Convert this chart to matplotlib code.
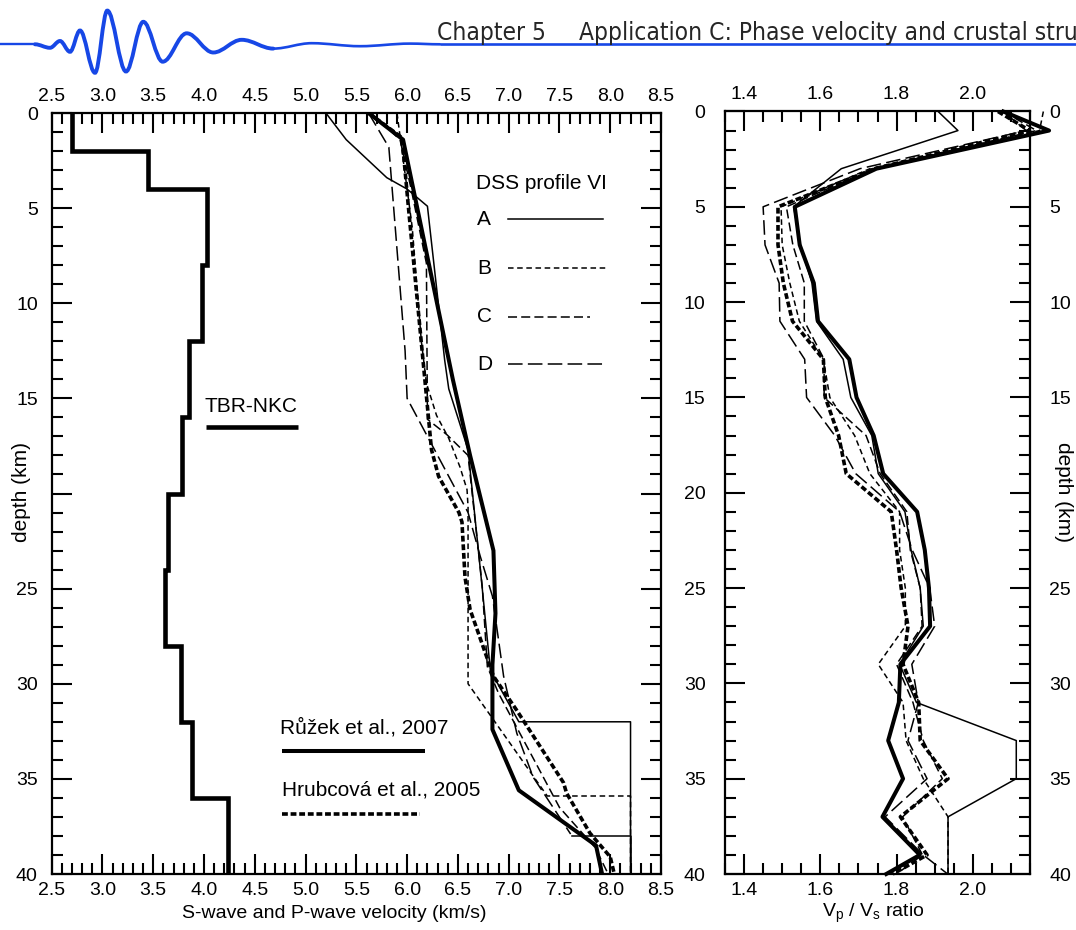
import matplotlib
matplotlib.use('Agg')
import matplotlib.pyplot as plt
from matplotlib.path import Path
from matplotlib.patches import PathPatch
from matplotlib.ticker import (MultipleLocator, FixedLocator, FormatStrFormatter,
                               FuncFormatter)

plt.rcParams['font.family'] = ['Liberation Sans', 'DejaVu Sans']
plt.rcParams['mathtext.fontset'] = 'custom'
plt.rcParams['mathtext.rm'] = 'Liberation Sans'
plt.rcParams['mathtext.it'] = 'Liberation Sans:italic'
plt.rcParams['lines.scale_dashes'] = False

# ---------------- S-wave layered model (TBR-NKC) ----------------
vs_edges = [0, 2, 4, 8, 12, 16, 20, 24, 28, 32, 36, 40]
vs_values = [2.70, 3.45, 4.03, 3.98, 3.85, 3.78, 3.65, 3.62, 3.77, 3.88, 4.24]

# ---------------- P-wave profiles ----------------
ruzek_depth = [0, 1.4, 14.0, 18.0, 23.0, 26.3, 29.0, 32.4, 35.6, 38.5, 40]
ruzek_vp = [5.62, 5.96, 6.45, 6.62, 6.85, 6.87, 6.84, 6.84, 7.10, 7.86, 7.92]

hrub_depth = [0, 1.3, 4.8, 13.2, 16.0, 17.7, 19.1, 21.0, 21.5, 24.4, 26.1, 29.6,
              31.4, 35.2, 35.75, 37.85, 39.1, 40]
hrub_vp = [5.62, 5.95, 6.01, 6.16, 6.21, 6.24, 6.31, 6.51, 6.54, 6.57, 6.62, 6.85,
           7.08, 7.54, 7.57, 7.80, 8.00, 8.04]

dss_a_depth = [0, 1.4, 3.4, 4.0, 4.9, 13.0, 14.5, 17.7, 25.0, 29.3, 32.0, 32.0, 40]
dss_a_vp = [5.20, 5.40, 5.80, 6.00, 6.20, 6.37, 6.41, 6.60, 6.74, 6.82, 7.10, 8.20, 8.20]

dss_b_depth = [0, 1.2, 6.0, 12.0, 14.2, 15.9, 17.1, 18.6, 19.8, 20.7, 30.0, 35.9, 35.9, 40]
dss_b_vp = [5.90, 5.93, 6.05, 6.14, 6.19, 6.29, 6.41, 6.52, 6.59, 6.60, 6.60, 7.38, 8.20, 8.20]

dss_c_depth = [0, 1.4, 4.0, 7.9, 16.1, 16.9, 18.0, 24.9, 29.1, 30.5, 33.5, 36.5, 38.6, 40]
dss_c_vp = [5.64, 5.93, 6.04, 6.19, 6.20, 6.39, 6.60, 6.74, 6.79, 6.90, 7.20, 7.50, 7.85, 7.98]

dss_d_depth = [0, 1.8, 12.5, 15.0, 21.0, 23.3, 25.4, 29.6, 32.6, 34.9, 37.9]
dss_d_vp = [5.62, 5.82, 5.98, 6.00, 6.60, 6.72, 6.84, 6.95, 7.08, 7.24, 7.61]
dss_d_moho_depth = [38.0, 38.0, 40]
dss_d_moho_vp = [7.62, 8.20, 8.20]

# ---------------- Vp/Vs ratio profiles ----------------
ratio_depth = [0, 1, 3, 5, 7, 9, 11, 13, 15, 17, 19, 21, 23, 25, 27, 29, 31, 33, 35, 37, 39, 40]
ratio_ruzek = [2.080, 2.200, 1.747, 1.533, 1.546, 1.583, 1.594, 1.676, 1.695, 1.740, 1.765,
               1.854, 1.874, 1.885, 1.888, 1.810, 1.806, 1.778, 1.817, 1.763, 1.861, 1.773]
ratio_hrub = [2.066, 2.149, 1.743, 1.489, 1.489, 1.503, 1.527, 1.608, 1.613, 1.648, 1.668,
              1.786, 1.800, 1.812, 1.830, 1.817, 1.858, 1.862, 1.935, 1.810, 1.880, 1.790]
ratio_a = [1.909, 1.961, 1.655, 1.530, 1.548, 1.578, 1.590, 1.660, 1.680, 1.735, 1.752,
           1.822, 1.838, 1.862, 1.870, 1.808, 1.852, 2.114, 2.114, 1.935, 1.935, 1.935]
ratio_b = [2.185, 2.175, 1.730, 1.497, 1.500, 1.520, 1.545, 1.608, 1.625, 1.690, 1.730,
           1.808, 1.808, 1.823, 1.823, 1.752, 1.817, 1.825, 1.870, 1.935, 1.935, 1.935]
ratio_c = [2.080, 2.167, 1.739, 1.511, 1.528, 1.558, 1.558, 1.610, 1.610, 1.720, 1.757,
           1.827, 1.836, 1.862, 1.867, 1.800, 1.843, 1.870, 1.920, 1.816, 1.868, 1.800]
ratio_d = [2.080, 2.140, 1.704, 1.450, 1.455, 1.492, 1.494, 1.559, 1.564, 1.638, 1.693,
           1.808, 1.841, 1.887, 1.900, 1.840, 1.857, 1.830, 1.880, 1.770, 1.870, 1.934]

# ---------------- header wavelet (extrema, header pixel units) ----------------
wave_x = [35, 50, 60, 70, 80, 95, 107.3, 126, 143.3, 162.7, 186.7, 213.3, 241.7, 273.3,
          311.7, 360, 410, 440]
wave_y = [44.3, 47.8, 41.0, 51.8, 30.5, 72.8, 10.6, 71.5, 21.8, 61.7, 33.3, 52.5, 39.8,
          48.6, 43.2, 46.2, 43.6, 44.3]

header_left = 'Chapter 5'
header_right = 'Application C: Phase velocity and crustal structure'

# ---------------- styles ----------------
BLUE = '#1747e6'
THIN = 1.1
THICK = 2.9
DASH_B = (0, (4.0, 2.6))
DASH_C = (0, (6.5, 3.0))
DASH_D = (0, (10.5, 3.8))
DASH_H = (0, (4.2, 2.0))

W, H = 1076, 930
fig = plt.figure(figsize=(W / 100, H / 100), dpi=100)


def box(l, t, r, b):
    return [l / W, 1 - b / H, (r - l) / W, (b - t) / H]


axL = fig.add_axes(box(51.7, 113, 661, 874))
axR = fig.add_axes(box(725, 111.5, 1030, 874))
axR2 = axR.twinx()   # carries the right-hand depth numbers only

# ---------- left panel: velocities ----------
axL.stairs(vs_values, vs_edges, orientation='horizontal', baseline=None,
           color='k', lw=3.3)
axL.plot(dss_a_vp, dss_a_depth, color='k', lw=THIN)
axL.plot(dss_b_vp, dss_b_depth, color='k', lw=THIN, linestyle=DASH_B)
axL.plot(dss_c_vp, dss_c_depth, color='k', lw=THIN, linestyle=DASH_C)
axL.plot(dss_d_vp, dss_d_depth, color='k', lw=THIN, linestyle=DASH_D)
axL.plot(dss_d_moho_vp, dss_d_moho_depth, color='k', lw=THIN)
axL.plot(hrub_vp, hrub_depth, color='k', lw=2.6, linestyle=DASH_H)
axL.plot(ruzek_vp, ruzek_depth, color='k', lw=THICK)

axL.set_xlim(2.5, 8.5)
axL.set_ylim(40, 0)
axL.xaxis.set_major_locator(MultipleLocator(0.5))
axL.xaxis.set_minor_locator(MultipleLocator(0.1))
axL.xaxis.set_major_formatter(FormatStrFormatter('%.1f'))
axL.yaxis.set_major_locator(MultipleLocator(5))
axL.yaxis.set_minor_locator(MultipleLocator(1))

# depth numbers, leaving room for the axis title at 20 km
skip20 = FuncFormatter(lambda v, p: '' if abs(v - 20) < 1e-6 else '%d' % round(v))
axL.yaxis.set_major_formatter(skip20)

# legend keys inside the velocity panel
txt = dict(fontsize=15, color='k')
axL.text(4.00, 15.45, 'TBR-NKC', va='center', ha='left', **txt)
axL.plot([4.02, 4.93], [16.5, 16.5], color='k', lw=3.3, solid_capstyle='butt')
axL.text(4.75, 32.3, 'Růžek et al., 2007', va='center', ha='left', **txt)
axL.plot([4.77, 6.18], [33.56, 33.56], color='k', lw=THICK, solid_capstyle='butt')
axL.text(4.77, 35.58, 'Hrubcová et al., 2005', va='center', ha='left', **txt)
axL.plot([4.77, 6.13], [36.85, 36.85], color='k', lw=2.6, linestyle=DASH_H)

axL.text(6.68, 3.73, 'DSS profile VI', va='center', ha='left', **txt)
key_rows = [('A', 5.58, '-', 7.93), ('B', 8.15, DASH_B, 7.98),
            ('C', 10.72, DASH_C, 7.80), ('D', 13.2, DASH_D, 7.93)]
for name, yy, ls, x_end in key_rows:
    axL.text(6.69, yy, name, va='center', ha='left', **txt)
    axL.plot([6.99, x_end], [yy, yy], color='k', lw=THIN, linestyle=ls)

# ---------- right panel: Vp/Vs ----------
common = dict(color='k', clip_on=False)
axR.plot(ratio_a, ratio_depth, lw=THIN, **common)
axR.plot(ratio_b, ratio_depth, lw=THIN, linestyle=DASH_B, **common)
axR.plot(ratio_c, ratio_depth, lw=THIN, linestyle=DASH_C, **common)
axR.plot(ratio_d, ratio_depth, lw=THIN, linestyle=DASH_D, **common)
axR.plot(ratio_hrub, ratio_depth, lw=2.6, linestyle=DASH_H, **common)
axR.plot(ratio_ruzek, ratio_depth, lw=THICK, **common)

axR.set_xlim(1.35, 2.15)
axR.set_ylim(40, 0)
axR.xaxis.set_major_locator(FixedLocator([1.4, 1.6, 1.8, 2.0]))
axR.xaxis.set_minor_locator(MultipleLocator(0.05))
axR.xaxis.set_major_formatter(FormatStrFormatter('%.1f'))
axR.yaxis.set_major_locator(MultipleLocator(5))
axR.yaxis.set_minor_locator(MultipleLocator(1))

for ax in (axL, axR):
    for s in ax.spines.values():
        s.set_linewidth(1.6)
    ax.tick_params(which='both', direction='in', top=True, bottom=True,
                   left=True, right=True, width=1.5, labelsize=14,
                   labeltop=True, labelbottom=True)
    ax.tick_params(which='major', length=14.5)
    ax.tick_params(which='minor', length=8)
    ax.tick_params(axis='x', pad=6)

axL.tick_params(axis='y', labelleft=True, labelright=False, pad=10)
axR.tick_params(axis='y', labelleft=True, labelright=False, pad=14)

axR2.set_ylim(40, 0)
axR2.yaxis.set_major_locator(MultipleLocator(5))
axR2.yaxis.set_major_formatter(skip20)
axR2.tick_params(axis='y', which='both', length=0, pad=14, labelsize=14,
                 right=True, labelright=True, left=False, labelleft=False)
for s in axR2.spines.values():
    s.set_visible(False)

# axis titles
fig.text(22 / W, 1 - 492 / H, 'depth (km)', rotation=90, ha='center', va='center',
         fontsize=15)
fig.text(1063 / W, 1 - 492 / H, 'depth (km)', rotation=270, ha='center', va='center',
         fontsize=15)
fig.text(334 / W, 1 - 913 / H, 'S-wave and P-wave velocity (km/s)', ha='center',
         va='center', fontsize=14)
fig.text(873 / W, 1 - 913 / H, r'V$_\mathrm{p}$ / V$_\mathrm{s}$ ratio', ha='center',
         va='center', fontsize=14)

# ---------- page header ----------
axH = fig.add_axes([0, 1 - 80 / H, 1, 80 / H])
axH.set_xlim(0, W)
axH.set_ylim(80, 0)
axH.axis('off')


def wave_path(xs, ys, k=0.36):
    verts = [(xs[0], ys[0])]
    codes = [Path.MOVETO]
    for i in range(len(xs) - 1):
        dx = xs[i + 1] - xs[i]
        verts += [(xs[i] + k * dx, ys[i]), (xs[i + 1] - k * dx, ys[i + 1]),
                  (xs[i + 1], ys[i + 1])]
        codes += [Path.CURVE4] * 3
    return Path(verts, codes)


base_y = wave_y[0]
axH.plot([0, wave_x[0]], [base_y, base_y], color=BLUE, lw=1.7, solid_capstyle='butt')
axH.add_patch(PathPatch(wave_path(wave_x[:14], wave_y[:14]), fill=False,
                        edgecolor=BLUE, lw=2.8, capstyle='round'))
axH.add_patch(PathPatch(wave_path(wave_x[13:], wave_y[13:]), fill=False,
                        edgecolor=BLUE, lw=1.9, capstyle='round'))
axH.plot([wave_x[-1], W], [base_y, base_y], color=BLUE, lw=1.9, solid_capstyle='butt')

hdr = dict(fontsize=17.6, color='#262626', va='baseline', ha='left',
           family='DejaVu Sans', fontstretch='condensed')
axH.text(437, 40, header_left, **hdr)
axH.text(579, 40, header_right, **hdr)

fig.savefig('out.png', dpi=100)
